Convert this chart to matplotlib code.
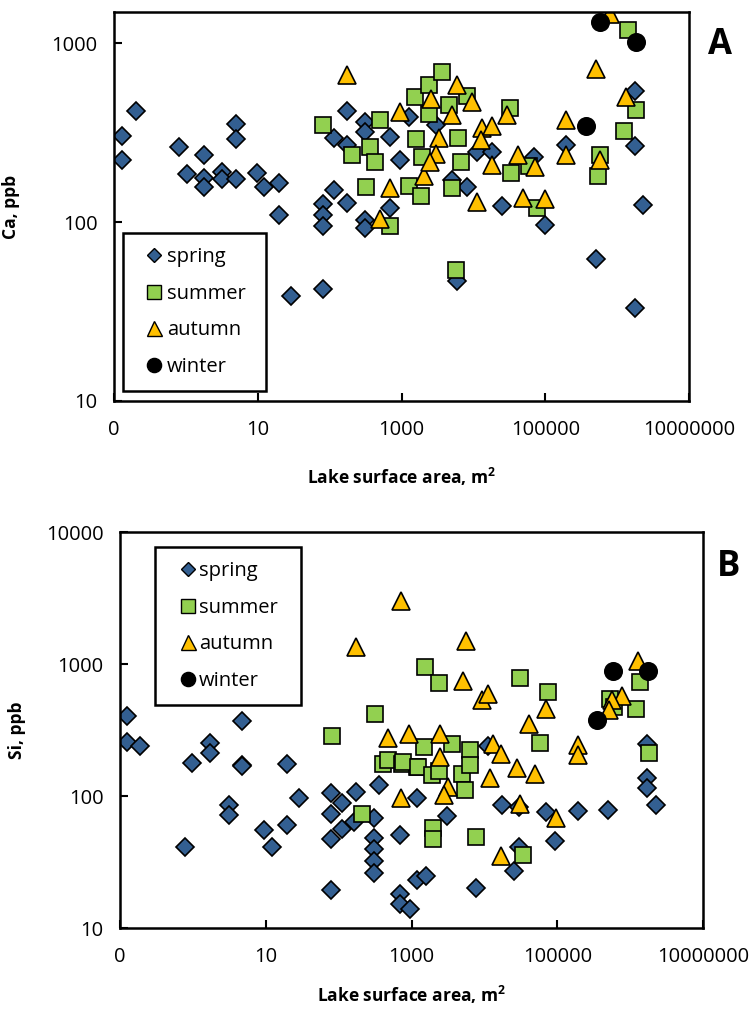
import matplotlib
matplotlib.use("Agg")
import matplotlib.pyplot as plt
from matplotlib.ticker import FixedLocator, FixedFormatter, NullLocator
from matplotlib.lines import Line2D

plt.rcParams['font.family'] = ['Open Sans', 'DejaVu Sans']

# ---------------- Panel A: Ca ----------------
ca_spring_x = [0.2, 0.13, 0.13, 0.8, 1.78, 1.03, 1.78, 1.78, 3.2, 3.2, 5, 5, 5, 9.8, 12.4, 20, 20, 29, 80, 80,
               80, 80, 116, 175, 175, 116, 175, 315, 315, 703, 968, 1260, 703, 315, 315, 2980, 11400, 18400,
               69800, 5080, 8050, 25300, 98400, 5840, 197000, 506000, 1.79e6, 1.79e6, 2.3e6, 1.79e6]
ca_spring_y = [415, 301, 221, 262, 238, 186, 176, 157, 190, 173, 355, 292, 174, 188, 156, 166, 109, 38.5, 42, 126,
               109, 95.5, 150, 128, 415, 295, 268, 362, 318, 298, 221, 386, 119, 102, 92, 347, 246, 246,
               231, 171, 157, 123, 96, 47, 268, 62, 537, 265, 124, 33]

ca_summer_x = [81, 499, 207, 370, 434, 321, 703, 1517, 2400, 2400, 1567, 1260, 1842, 1940, 3690, 4570, 8240,
               32400, 6100, 6640, 33000, 59500, 5080, 76000, 5660, 575000, 534000, 1.23e6, 1.83e6, 1.43e6]
ca_summer_y = [350, 373, 238, 262, 215, 156, 95, 499, 583, 400, 292, 159, 139, 231, 689, 449, 504,
               435, 296, 215, 189, 205, 154, 119, 54, 236, 180, 322, 421, 1188]

ca_autumn_x = [175, 968, 703, 499, 2040, 800000, 506000, 1.35e6, 197000, 197000, 575000, 5840, 2540, 9460,
               4980, 29500, 13300, 17900, 3310, 12600, 2980, 2480, 17900, 41700, 71900, 11400, 49000, 98000]
ca_autumn_y = [660, 412, 154, 104, 180, 1460, 720, 499, 370, 238, 221, 580, 484, 468,
               394, 398, 333, 343, 296, 286, 239, 215, 208, 238, 203, 129, 137, 134]

ca_winter_x = [580000, 1.83e6, 366000]
ca_winter_y = [1310, 1013, 344]

# ---------------- Panel B: Si ----------------
si_spring_x = [0.123, 0.123, 0.19, 0.98, 1.73, 1.73, 4.78, 4.78, 4.78, 0.79, 3.1, 3.1, 9.5, 12.2, 19.6, 19.6,
               28.4, 77.6, 77.6, 77.6, 77.6, 112, 112, 171, 160, 363, 306, 306, 306, 306, 306, 698, 698, 698,
               960, 1208, 1186, 1578, 11100, 3070, 17500, 30300, 70600, 194000, 498000, 1.73e6, 1.73e6,
               1.73e6, 2.3e6, 91800, 25300, 7760, 30300]
si_spring_y = [401, 255, 241, 179, 254, 213, 369, 171, 168, 41, 85, 72, 55, 41, 174, 60,
               97, 106, 73, 47, 19.3, 88, 56, 108, 64, 122, 68, 48, 40, 32, 26, 51, 18.2, 15.1,
               14, 96, 23.3, 24.7, 239, 71, 86, 83, 75, 77, 79, 247, 138,
               114, 86, 46, 27, 20, 41]

si_summer_x = [80, 316, 404, 482, 736, 1186, 207, 1540, 2400, 31300, 75200, 58900, 1490, 3590, 6280, 776,
               1247, 1905, 2400, 4930, 6410, 5480, 1970, 1970, 7760, 33600, 530000, 602000, 1.37e6, 1.2e6,
               1.79e6]
si_summer_y = [283, 420, 176, 187, 176, 166, 73, 955, 720, 779, 611, 252, 235, 249, 222, 181,
               166, 144, 155, 146, 171, 111, 57, 47, 49, 36, 545, 471, 726, 458,
               213]

si_autumn_x = [713, 173, 472, 937, 713, 5650, 5090, 9290, 11100, 70600, 40700, 2430, 2430, 3130, 2750, 13200,
               17100, 11800, 28200, 49300, 30600, 94900, 17100, 195000, 195000, 1.3e6, 785000, 559000, 513000]
si_autumn_y = [3000, 1335, 277, 293, 97, 1500, 748, 535, 594, 458, 349, 297, 198, 116, 102, 249,
               207, 138, 162, 148, 87, 68, 35, 242, 204, 1046, 568, 535, 445]

si_winter_x = [584000, 1.77e6, 356000]
si_winter_y = [880, 891, 374]

season_labels = ['spring', 'summer', 'autumn', 'winter']
x_ticks = [0.1, 10, 1000, 100000, 10000000]
x_tick_labels = ['0', '10', '1000', '100000', '10000000']

colors = ['#335F91', '#92D050', '#FFC000', '#000000']
markers = ['D', 's', '^', 'o']
msizes = [9.0, 11.5, 12.5, 12.5]
leg_msizes = [7.6, 10.0, 10.8, 10.2]

W, H = 753, 1009
fig = plt.figure(figsize=(W / 100, H / 100), dpi=100)

def px_axes(l, t, r, b):
    return fig.add_axes([l / W, 1 - b / H, (r - l) / W, (b - t) / H])

axA = px_axes(114, 12, 689, 401)
axB = px_axes(120, 532, 703, 928)

def draw(ax, series, ylim, yticks, ylabel, ylabel_x, legend_box, hl, xlabel_pad):
    for (xs, ys), c, m, ms in zip(series, colors, markers, msizes):
        ax.plot(xs, ys, linestyle='none', marker=m, markersize=ms, markerfacecolor=c,
                markeredgecolor='black', markeredgewidth=1.2, clip_on=True)
    ax.set_xscale('log')
    ax.set_yscale('log')
    ax.set_xlim(0.1, 1e7)
    ax.set_ylim(*ylim)
    ax.xaxis.set_major_locator(FixedLocator(x_ticks))
    ax.xaxis.set_major_formatter(FixedFormatter(x_tick_labels))
    ax.xaxis.set_minor_locator(NullLocator())
    ax.yaxis.set_major_locator(FixedLocator(yticks))
    ax.yaxis.set_major_formatter(FixedFormatter([str(v) for v in yticks]))
    ax.yaxis.set_minor_locator(NullLocator())
    ax.tick_params(direction='in', length=6, width=1.5, labelsize=14.5, pad=12)
    ax.tick_params(axis='x', pad=14)
    for s in ax.spines.values():
        s.set_linewidth(1.8)
    ax.set_xlabel('Lake surface area, m$^{\\mathregular{2}}$', fontsize=12.5, fontweight='bold',
                  labelpad=xlabel_pad)
    ax.set_ylabel(ylabel, fontsize=12.5, fontweight='bold')
    pos = ax.get_position()
    ax.yaxis.set_label_coords((ylabel_x / W - pos.x0) / pos.width, 0.5)
    handles = [Line2D([], [], linestyle='none', marker=m, markersize=ms, markerfacecolor=c,
                      markeredgecolor='black', markeredgewidth=1.0)
               for c, m, ms in zip(colors, markers, leg_msizes)]
    l, t, r, b = legend_box
    leg = ax.legend(handles, season_labels, loc='upper left',
                    bbox_to_anchor=(l / W, 1 - b / H, (r - l) / W, (b - t) / H),
                    bbox_transform=fig.transFigure, mode='expand',
                    fontsize=14.5, frameon=True, fancybox=False, edgecolor='black', framealpha=1,
                    handlelength=hl, handletextpad=2.18 - 0.7 - hl, labelspacing=0.82, borderpad=0.7,
                    borderaxespad=0)
    leg.get_frame().set_linewidth(1.8)
    return leg

draw(axA, [(ca_spring_x, ca_spring_y), (ca_summer_x, ca_summer_y), (ca_autumn_x, ca_autumn_y),
           (ca_winter_x, ca_winter_y)], (10, 1490), [10, 100, 1000], 'Ca, ppb', 20,
     (123, 233, 266, 384), 1.68, 18)
draw(axB, [(si_spring_x, si_spring_y), (si_summer_x, si_summer_y), (si_autumn_x, si_autumn_y),
           (si_winter_x, si_winter_y)], (10, 10000), [10, 100, 1000, 10000], 'Si, ppb', 25.5,
     (155, 547, 301, 692), 1.88, 12)

fig.text(719.5 / W, 1 - 45 / H, 'A', fontsize=25, fontweight='bold', ha='center', va='center')
fig.text(729 / W, 1 - 567.5 / H, 'B', fontsize=25, fontweight='bold', ha='center', va='center')

fig.savefig('out.png', dpi=100)
